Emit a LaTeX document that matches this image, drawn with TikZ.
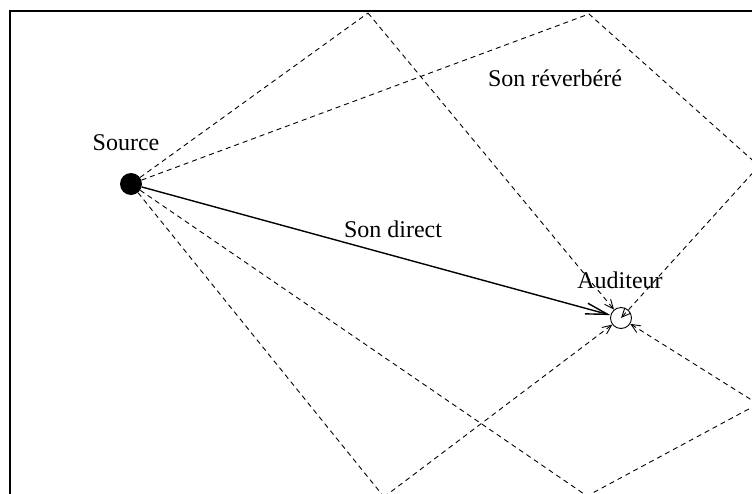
\documentclass[tikz,border=0pt]{standalone}
\usepackage{fontspec}
\setmainfont{Liberation Serif}
\usetikzlibrary{arrows.meta}
\begin{document}
\begin{tikzpicture}[x=1pt,y=-1pt,
  lbl/.style={font=\fontsize{24}{28}\selectfont, anchor=base, inner sep=0pt},
  ray/.style={line width=0.9pt, dash pattern=on 5pt off 4pt, -{Straight Barb[length=9pt,width=8pt,line width=0.9pt]}},
  raypart/.style={line width=0.9pt, dash pattern=on 5pt off 4pt},
  direct/.style={line width=1.4pt, -{Straight Barb[length=22pt,width=11pt,line width=1.4pt]}}]
\useasboundingbox (0,0) rectangle (752,493);
\clip (0,0) rectangle (752,493);
\fill[white] (0,0) rectangle (752,493);
\draw[line width=2.6pt] (10,11) rectangle (760,498);
% points of reflection
\coordinate (T1) at (368,13);
\coordinate (T2) at (589,14);
\coordinate (R1) at (759,166);
\coordinate (B1) at (384,497);
\coordinate (B2) at (587,496);
\coordinate (R2) at (758,404);
% source and listener
\node[circle, fill=black, minimum size=22pt, inner sep=0pt] (src) at (131,184) {};
\node[circle, draw, line width=0.9pt, minimum size=21pt, inner sep=0pt] (lis) at (621,318) {};
% reverberated paths
\draw[raypart] (src) -- (T1);
\draw[ray] (T1) -- (lis);
\draw[raypart] (src) -- (T2) -- (R1);
\draw[ray] (R1) -- (lis.center);
\draw[raypart] (src) -- (B1);
\draw[ray] (B1) -- (lis);
\draw[raypart] (src) -- (B2) -- (R2);
\draw[ray] (R2) -- (lis);
% direct path
\draw[direct] (src) -- (lis);
% labels
\node[lbl] (lsrc) at (126,150) {Source};
\node[lbl] (ldir) at (393,237) {Son direct};
\node[lbl] (lrev) at (555,86) {Son réverbéré};
\node[lbl] (llis) at (620,288) {Auditeur};
\end{tikzpicture}
\end{document}
